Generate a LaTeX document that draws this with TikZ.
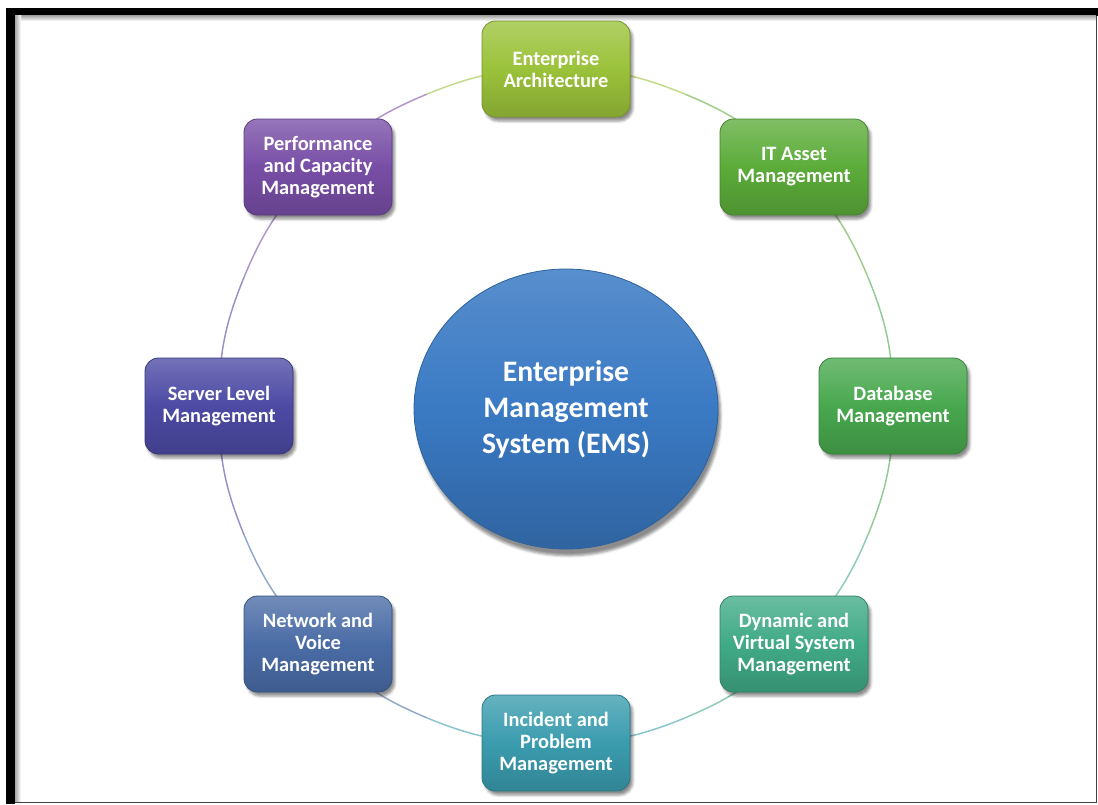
\documentclass[tikz,border=0pt]{standalone}
\usepackage{fontspec}
\setmainfont{Carlito}
\usetikzlibrary{shapes.geometric}
\usetikzlibrary{shadows.blur}
\usetikzlibrary{backgrounds}

\definecolor{eaCol}{RGB}{155,194,58}
\definecolor{itaCol}{RGB}{92,172,58}
\definecolor{dbCol}{RGB}{72,168,78}
\definecolor{dvsCol}{RGB}{64,170,134}
\definecolor{ipmCol}{RGB}{58,156,174}
\definecolor{nvmCol}{RGB}{74,108,166}
\definecolor{slmCol}{RGB}{76,74,164}
\definecolor{pcmCol}{RGB}{120,78,166}
\definecolor{emsCol}{RGB}{58,122,196}

\begin{document}
\begin{tikzpicture}[x=0.75pt,y=0.75pt,yscale=-1,xscale=1,
  mgmt/.style={rounded corners=10pt, minimum width=111pt, minimum height=72pt,
    align=center, text=white, font=\bfseries\fontsize{15.3}{16.6}\selectfont,
    top color=#1!78!white, bottom color=#1!85!black, middle color=#1,
    draw=#1!75!black, line width=0.6pt,
    blur shadow={shadow xshift=2pt, shadow yshift=-3pt, shadow opacity=45}},
  ring/.style={line width=1.1pt, draw=#1!60!white}]
\useasboundingbox (0,0) rectangle (1098,804);

%Shape: Frame
\fill (6,7.5) rectangle (1098,15.5);
\fill (6,7.5) rectangle (15,804);
\shade [top color=black!35, bottom color=white] (15,15.5) rectangle (1096,21);
\shade [left color=black!35, right color=white] (15,15.5) rectangle (21,802);
\draw [black!75, line width=1pt] (1096.5,15.5) -- (1096.5,802.5) -- (15,802.5);

%Shape: Ellipse [centre]
\node [ellipse, minimum width=228pt, minimum height=210pt, align=center,
  text=white, font=\bfseries\fontsize{22.3}{27}\selectfont,
  top color=emsCol!85!white, bottom color=emsCol!82!black, middle color=emsCol,
  draw=emsCol!80!black, line width=0.6pt,
  blur shadow={shadow xshift=2pt, shadow yshift=-5pt, shadow opacity=45}]
  (ems) at (566,409) {Enterprise\\Management\\System (EMS)};

% Boxes
\node [mgmt=eaCol] (ea) at (556,69) {Enterprise\\Architecture};
\node [mgmt=itaCol] (ita) at (794,167) {IT Asset\\Management};
\node [mgmt=dbCol] (db) at (893,406) {Database\\Management};
\node [mgmt=dvsCol] (dvs) at (794,644) {Dynamic and\\Virtual System\\Management};
\node [mgmt=ipmCol] (ipm) at (556,743) {Incident and\\Problem\\Management};
\node [mgmt=nvmCol] (nvm) at (318,644) {Network and\\Voice\\Management};
\node [mgmt=slmCol] (slm) at (219,406) {Server Level\\Management};
\node [mgmt=pcmCol] (pcm) at (318,167) {Performance\\and Capacity\\Management};

% Ring mid points
\coordinate (m1) at (685.2,94.2);
\coordinate (m2) at (867.8,276.8);
\coordinate (m3) at (867.8,535.2);
\coordinate (m4) at (685.2,717.8);
\coordinate (m5) at (426.8,717.8);
\coordinate (m6) at (244.2,535.2);
\coordinate (m7) at (244.2,276.8);
\coordinate (m8) at (426.8,94.2);

% Ring
\begin{scope}[on background layer]
\draw [ring=eaCol] (ea.center) to[bend right=11.25] (m1);
\draw [ring=itaCol] (m1) to[bend right=11.25] (ita.center);
\draw [ring=itaCol] (ita.center) to[bend right=11.25] (m2);
\draw [ring=dbCol] (m2) to[bend right=11.25] (db.center);
\draw [ring=dbCol] (db.center) to[bend right=11.25] (m3);
\draw [ring=dvsCol] (m3) to[bend right=11.25] (dvs.center);
\draw [ring=dvsCol] (dvs.center) to[bend right=11.25] (m4);
\draw [ring=ipmCol] (m4) to[bend right=11.25] (ipm.center);
\draw [ring=ipmCol] (ipm.center) to[bend right=11.25] (m5);
\draw [ring=nvmCol] (m5) to[bend right=11.25] (nvm.center);
\draw [ring=nvmCol] (nvm.center) to[bend right=11.25] (m6);
\draw [ring=slmCol] (m6) to[bend right=11.25] (slm.center);
\draw [ring=slmCol] (slm.center) to[bend right=11.25] (m7);
\draw [ring=pcmCol] (m7) to[bend right=11.25] (pcm.center);
\draw [ring=pcmCol] (pcm.center) to[bend right=11.25] (m8);
\draw [ring=eaCol] (m8) to[bend right=11.25] (ea.center);
\end{scope}

\end{tikzpicture}
\end{document}
